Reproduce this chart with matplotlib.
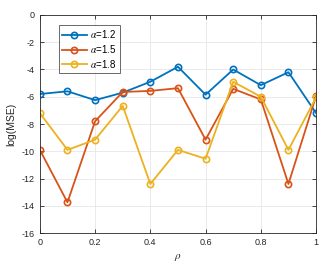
import numpy as np
import matplotlib.pyplot as plt

# data
rho = [0, 0.1, 0.2, 0.3, 0.4, 0.5, 0.6, 0.7, 0.8, 0.9, 1.0]
mse_12 = [-5.8, -5.6, -6.25, -5.7, -4.9, -3.8, -5.85, -4.0, -5.15, -4.2, -7.2]
mse_15 = [-9.9, -13.75, -7.8, -5.65, -5.57, -5.37, -9.15, -5.42, -6.2, -12.4, -5.95]
mse_18 = [-7.2, -9.9, -9.15, -6.67, -12.4, -9.9, -10.55, -4.9, -6.0, -9.9, -6.05]
labels = [r'$\alpha$=1.2', r'$\alpha$=1.5', r'$\alpha$=1.8']
colors = ['#0072BD', '#D95319', '#EDB120']

plt.rcParams['font.family'] = 'Liberation Sans'
plt.rcParams['mathtext.fontset'] = 'stix'
plt.rcParams['axes.unicode_minus'] = False

fig = plt.figure(figsize=(3.32, 2.63), dpi=100)
ax = fig.add_axes([0.120, 0.114, 0.832, 0.829])

for ys, lab, c in zip([mse_12, mse_15, mse_18], labels, colors):
    ax.plot(rho, ys, '-o', color=c, lw=1.3, ms=4.5, mfc='none', mew=1.2, label=lab)

ax.set_xlim(0, 1)
ax.set_ylim(-16, 0)
ax.set_xticks([0, 0.2, 0.4, 0.6, 0.8, 1])
ax.set_xticklabels(['0', '0.2', '0.4', '0.6', '0.8', '1'])
ax.set_yticks(range(-16, 1, 2))
ax.grid(True, color='#e6e6e6', lw=0.6)
ax.set_axisbelow(True)
ax.tick_params(direction='in', labelsize=6.5, colors='#262626', length=3, width=0.6, top=True, right=True)
for s in ax.spines.values():
    s.set_color('#262626')
    s.set_linewidth(0.6)
ax.set_xlabel(r'$\rho$', fontsize=8, color='#262626')
ax.set_ylabel('log(MSE)', fontsize=7.5, color='#262626')

leg = ax.legend(loc='upper left', bbox_to_anchor=(0.069, 0.956), borderaxespad=0, fontsize=7,
                frameon=True, fancybox=False, edgecolor='#262626', handlelength=2.5,
                borderpad=0.35, labelspacing=0.3, handletextpad=0.4)
leg.get_frame().set_linewidth(0.6)

fig.savefig('out.png', dpi=100)
